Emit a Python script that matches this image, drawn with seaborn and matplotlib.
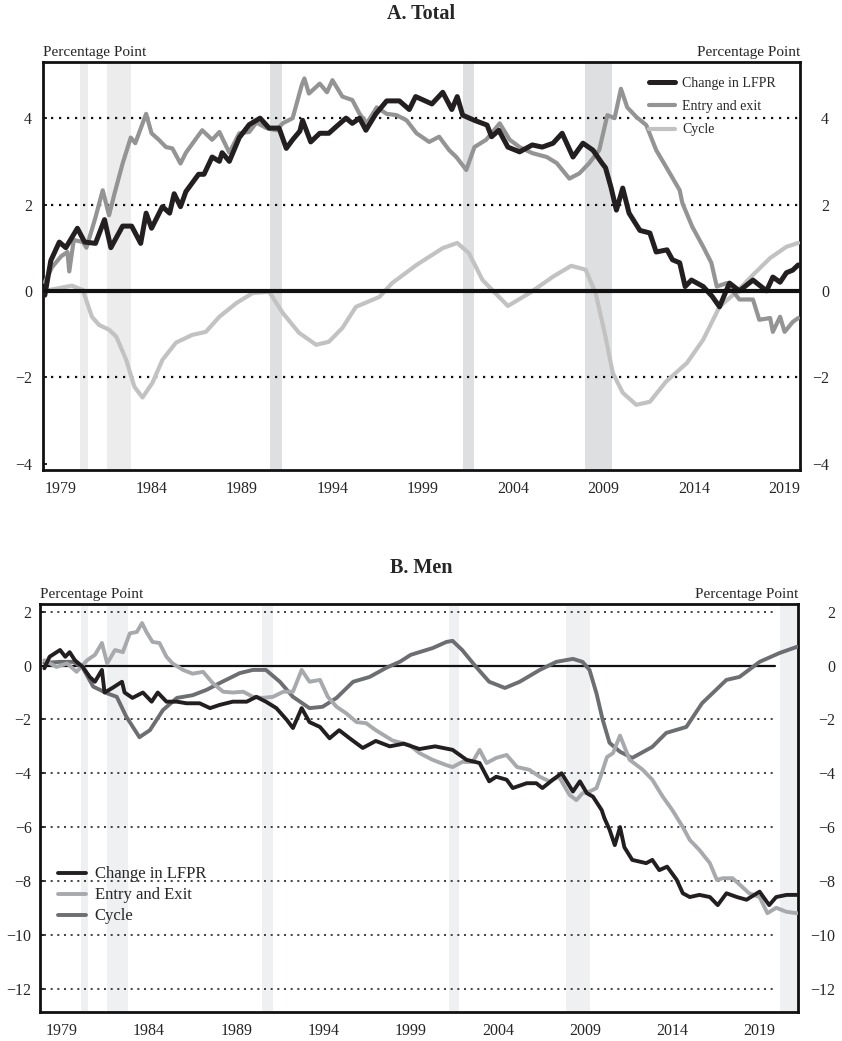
import numpy as np
import pandas as pd
import matplotlib
matplotlib.use('Agg')
import matplotlib.pyplot as plt
import seaborn as sns
from matplotlib.ticker import FixedLocator, MultipleLocator

# ---- Panel A: Total ----
a_lfpr_year = [1978.1, 1978.43, 1978.9, 1979.26, 1979.9, 1980.3, 1980.9, 1981.4, 1981.75, 1982.4,
               1982.9, 1983.4, 1983.7, 1984.0, 1984.6, 1985.0, 1985.25, 1985.6, 1985.9, 1986.6,
               1986.9, 1987.35, 1987.75, 1987.9, 1988.3, 1988.85, 1989.4, 1990.0, 1990.5, 1991.05,
               1991.45, 1991.8, 1992.2, 1992.35, 1992.8, 1993.3, 1993.8, 1994.2, 1994.75, 1995.1,
               1995.5, 1995.85, 1996.4, 1997.0, 1997.7, 1998.25, 1998.6, 1999.5, 2000.1, 2000.6,
               2000.9, 2001.2, 2001.85, 2002.55, 2002.8, 2003.2, 2003.7, 2004.35, 2005.05, 2005.6,
               2006.2, 2006.7, 2007.3, 2007.85, 2008.4, 2008.9, 2009.1, 2009.4, 2009.7, 2010.05,
               2010.4, 2011.0, 2011.55, 2011.9, 2012.5, 2012.8, 2013.2, 2013.5, 2013.85, 2014.5,
               2015.0, 2015.4, 2015.95, 2016.5, 2017.25, 2018.0, 2018.35, 2018.75, 2019.1, 2019.45,
               2019.75]
a_lfpr = [-0.1, 0.7, 1.13, 1.0, 1.45, 1.13, 1.1, 1.65, 1.0, 1.5,
          1.5, 1.1, 1.8, 1.45, 1.95, 1.8, 2.25, 1.95, 2.3, 2.7,
          2.7, 3.1, 3.0, 3.2, 3.0, 3.55, 3.85, 4.0, 3.77, 3.77,
          3.3, 3.5, 3.7, 3.95, 3.45, 3.65, 3.65, 3.8, 4.0, 3.88,
          4.0, 3.72, 4.1, 4.4, 4.4, 4.2, 4.5, 4.33, 4.6, 4.2,
          4.5, 4.07, 3.95, 3.84, 3.57, 3.72, 3.33, 3.22, 3.38, 3.33,
          3.42, 3.65, 3.1, 3.42, 3.26, 2.96, 2.85, 2.4, 1.87, 2.38,
          1.8, 1.4, 1.34, 0.9, 0.95, 0.72, 0.65, 0.1, 0.25, 0.1,
          -0.13, -0.37, 0.18, 0.0, 0.25, 0.0, 0.32, 0.2, 0.42, 0.48,
          0.6]

a_entry_year = [1978.1, 1978.5, 1979.0, 1979.35, 1979.45, 1979.7, 1980.2, 1980.4, 1980.9, 1981.3,
                1981.65, 1981.95, 1982.4, 1982.85, 1983.1, 1983.7, 1984.0, 1984.4, 1984.8, 1985.15,
                1985.6, 1985.9, 1986.45, 1986.8, 1987.35, 1987.75, 1988.3, 1988.85, 1989.4, 1989.8,
                1990.35, 1990.9, 1991.25, 1991.8, 1992.3, 1992.45, 1992.7, 1993.3, 1993.7, 1994.0,
                1994.55, 1995.1, 1995.5, 1995.9, 1996.45, 1997.0, 1997.55, 1998.1, 1998.65, 1999.35,
                1999.9, 2000.45, 2000.85, 2001.4, 2001.85, 2002.5, 2003.25, 2003.8, 2004.35, 2005.05,
                2005.85, 2006.4, 2007.1, 2007.65, 2008.2, 2008.75, 2009.05, 2009.2, 2009.6, 2009.95,
                2010.3, 2010.8, 2011.35, 2011.9, 2012.45, 2013.2, 2013.35, 2013.9, 2014.5, 2014.95,
                2015.25, 2015.8, 2016.5, 2017.25, 2017.6, 2018.2, 2018.35, 2018.75, 2019.0, 2019.45,
                2019.75]
a_entry = [0.2, 0.55, 0.8, 0.9, 0.45, 1.18, 1.13, 1.0, 1.7, 2.33,
           1.75, 2.25, 2.95, 3.55, 3.42, 4.1, 3.65, 3.5, 3.33, 3.3,
           2.95, 3.2, 3.52, 3.72, 3.5, 3.68, 3.2, 3.65, 3.68, 3.9,
           3.77, 3.72, 3.88, 4.0, 4.76, 4.92, 4.57, 4.8, 4.6, 4.88,
           4.5, 4.42, 4.1, 3.88, 4.25, 4.1, 4.07, 3.95, 3.65, 3.45,
           3.57, 3.26, 3.1, 2.8, 3.33, 3.5, 3.88, 3.5, 3.33, 3.19,
           3.1, 2.96, 2.6, 2.72, 2.96, 3.26, 3.8, 4.07, 4.0, 4.68,
           4.25, 4.03, 3.84, 3.26, 2.87, 2.33, 2.03, 1.48, 1.02, 0.65,
           0.1, 0.18, -0.2, -0.2, -0.67, -0.63, -0.95, -0.6, -0.95, -0.72,
           -0.63]

a_cycle_year = [1978.1, 1978.35, 1979.6, 1980.2, 1980.7, 1981.1, 1981.65, 1982.05, 1982.6, 1983.05,
                1983.5, 1984.05, 1984.6, 1985.35, 1986.25, 1987.0, 1987.75, 1988.7, 1989.6, 1990.5,
                1991.25, 1992.15, 1993.1, 1993.8, 1994.55, 1995.3, 1996.6, 1997.3, 1998.65, 2000.1,
                2000.9, 2001.55, 2002.3, 2003.7, 2004.9, 2006.2, 2007.2, 2008.0, 2008.55, 2009.05,
                2009.5, 2010.05, 2010.8, 2011.55, 2012.45, 2013.6, 2014.5, 2015.4, 2016.35, 2017.25,
                2018.2, 2019.1, 2019.75]
a_cycle = [0.0, 0.02, 0.12, 0.02, -0.6, -0.79, -0.9, -1.06, -1.6, -2.22,
           -2.47, -2.13, -1.6, -1.2, -1.02, -0.95, -0.6, -0.28, -0.05, -0.02,
           -0.51, -0.97, -1.25, -1.18, -0.86, -0.37, -0.14, 0.18, 0.6, 0.99,
           1.11, 0.87, 0.25, -0.35, -0.05, 0.33, 0.58, 0.49, -0.05, -0.97,
           -1.9, -2.36, -2.64, -2.57, -2.1, -1.67, -1.13, -0.37, -0.02, 0.37,
           0.76, 1.02, 1.11]

a_recess_start = [1980.05, 1981.55, 1990.55, 2001.2, 2007.95]
a_recess_end = [1980.5, 1982.85, 1991.2, 2001.8, 2009.45]

# ---- Panel B: Men ----
b_lfpr_year = [1978.0, 1978.3, 1978.9, 1979.2, 1979.45, 1979.75, 1980.2, 1980.6, 1980.9, 1981.3,
               1981.45, 1981.9, 1982.45, 1982.6, 1983.05, 1983.65, 1984.15, 1984.5, 1985.0, 1985.6,
               1986.15, 1986.9, 1987.5, 1988.05, 1988.8, 1989.6, 1990.15, 1990.7, 1991.3, 1991.9,
               1992.25, 1992.75, 1993.2, 1993.8, 1994.35, 1994.9, 1995.5, 1996.25, 1997.0, 1997.8,
               1998.6, 1999.5, 2000.4, 2001.4, 2002.2, 2002.95, 2003.5, 2003.9, 2004.5, 2004.85,
               2005.65, 2006.2, 2006.55, 2007.15, 2007.65, 2008.3, 2008.7, 2009.1, 2009.45, 2009.95,
               2010.1, 2010.4, 2010.7, 2011.0, 2011.25, 2011.7, 2012.5, 2012.85, 2013.25, 2013.7,
               2014.25, 2014.6, 2015.0, 2015.55, 2016.15, 2016.6, 2017.1, 2017.7, 2018.25, 2019.0,
               2019.55, 2019.95, 2020.55, 2021.15]
b_lfpr = [-0.1, 0.33, 0.58, 0.33, 0.5, 0.2, -0.05, -0.42, -0.6, -0.16,
          -1.0, -0.83, -0.6, -1.0, -1.2, -1.0, -1.34, -1.0, -1.34, -1.34,
          -1.4, -1.4, -1.58, -1.46, -1.34, -1.34, -1.16, -1.34, -1.58, -2.02,
          -2.32, -1.58, -2.1, -2.28, -2.7, -2.4, -2.7, -3.06, -2.8, -3.0,
          -2.9, -3.1, -3.0, -3.13, -3.5, -3.62, -4.3, -4.13, -4.24, -4.55,
          -4.37, -4.37, -4.55, -4.24, -4.0, -4.68, -4.3, -4.74, -4.87, -5.37,
          -5.66, -6.1, -6.67, -6.0, -6.75, -7.22, -7.34, -7.22, -7.6, -7.47,
          -7.96, -8.46, -8.6, -8.52, -8.6, -8.9, -8.46, -8.6, -8.7, -8.4,
          -8.9, -8.6, -8.52, -8.52]

b_entry_year = [1978.0, 1978.7, 1979.3, 1979.85, 1980.45, 1980.9, 1981.3, 1981.6, 1982.05, 1982.5,
                1982.9, 1983.3, 1983.6, 1983.85, 1984.2, 1984.6, 1985.0, 1985.35, 1985.95, 1986.5,
                1987.1, 1987.65, 1988.25, 1988.8, 1989.4, 1989.95, 1990.5, 1991.1, 1991.7, 1992.25,
                1992.75, 1993.2, 1993.8, 1994.25, 1994.75, 1995.3, 1995.9, 1996.45, 1997.0, 1997.95,
                1998.95, 1999.5, 2000.25, 2001.05, 2001.4, 2001.95, 2002.55, 2002.95, 2003.35, 2003.9,
                2004.5, 2005.1, 2005.8, 2006.4, 2006.95, 2007.5, 2008.1, 2008.5, 2008.85, 2009.25,
                2009.65, 2009.95, 2010.25, 2010.6, 2011.0, 2011.55, 2012.3, 2012.85, 2013.45, 2014.0,
                2014.6, 2015.0, 2015.55, 2016.15, 2016.55, 2016.9, 2017.45, 2018.0, 2018.4, 2019.0,
                2019.45, 2019.95, 2020.55, 2021.15]
b_entry = [0.2, -0.05, 0.08, -0.23, 0.2, 0.4, 0.84, 0.08, 0.58, 0.5,
           1.2, 1.25, 1.58, 1.25, 0.88, 0.84, 0.33, 0.08, -0.16, -0.3,
           -0.23, -0.65, -0.97, -1.0, -0.97, -1.16, -1.2, -1.16, -0.97, -0.97,
           -0.16, -0.6, -0.53, -1.16, -1.53, -1.77, -2.1, -2.14, -2.4, -2.78,
           -2.96, -3.25, -3.5, -3.7, -3.77, -3.58, -3.58, -3.13, -3.62, -3.43,
           -3.32, -3.77, -3.87, -4.13, -4.3, -4.13, -4.8, -5.0, -4.74, -4.68,
           -4.55, -4.0, -3.4, -3.25, -2.6, -3.5, -3.87, -4.24, -4.87, -5.37,
           -6.0, -6.48, -6.85, -7.34, -7.96, -7.9, -7.9, -8.22, -8.46, -8.6,
           -9.2, -9.0, -9.15, -9.2]

b_cycle_year = [1978.0, 1978.9, 1979.65, 1980.2, 1980.8, 1981.6, 1982.15, 1982.7, 1983.45, 1984.05,
                1984.8, 1985.6, 1986.5, 1987.3, 1988.2, 1989.2, 1989.95, 1990.7, 1991.5, 1992.25,
                1993.2, 1993.95, 1994.75, 1995.7, 1996.65, 1997.6, 1998.4, 1999.0, 1999.5, 2000.25,
                2001.05, 2001.4, 2001.95, 2002.75, 2003.5, 2004.4, 2005.25, 2006.4, 2007.35, 2008.3,
                2008.85, 2009.25, 2009.65, 2010.0, 2010.4, 2011.0, 2011.7, 2012.85, 2013.65, 2014.8,
                2015.7, 2017.1, 2017.85, 2019.0, 2020.15, 2021.15]
b_cycle = [0.1, 0.14, 0.14, -0.08, -0.78, -1.03, -1.16, -1.9, -2.66, -2.4,
           -1.65, -1.2, -1.1, -0.9, -0.6, -0.28, -0.16, -0.16, -0.6, -1.16,
           -1.58, -1.53, -1.2, -0.6, -0.42, -0.08, 0.15, 0.4, 0.5, 0.65,
           0.88, 0.92, 0.58, -0.05, -0.6, -0.83, -0.6, -0.16, 0.14, 0.25,
           0.14, -0.16, -1.03, -2.0, -2.87, -3.2, -3.43, -3.02, -2.5, -2.28,
           -1.4, -0.53, -0.42, 0.14, 0.47, 0.7]

b_recess_start = [1980.1, 1981.6, 1990.5, 2001.2, 2007.9, 2020.15]
b_recess_end = [1980.5, 1982.8, 1991.1, 2001.75, 2009.3, 2021.4]

year_ticks = [1979, 1984, 1989, 1994, 1999, 2004, 2009, 2014, 2019]

SERIF = 'Liberation Serif'


def style_axes(ax, xlim, ylim, yticks, left_pad, right_pad):
    ax.set_xlim(*xlim)
    ax.set_ylim(*ylim)
    ax.set_xlabel('')
    ax.set_ylabel('')
    ax.xaxis.set_major_locator(FixedLocator(year_ticks))
    ax.xaxis.set_minor_locator(MultipleLocator(1))
    ax.set_xticklabels([str(y) for y in year_ticks])
    ax.yaxis.set_major_locator(FixedLocator(yticks))
    ax.tick_params(axis='x', which='major', direction='in', length=6, width=1.6,
                   labelsize=11.5, pad=8, top=False)
    ax.tick_params(axis='x', which='minor', direction='in', length=4, width=1.6, top=False)
    ax.tick_params(axis='y', which='major', direction='in', length=3, width=1.4,
                   left=True, right=False, labelleft=True, labelright=False,
                   labelsize=11.5, pad=left_pad)
    for lab in ax.get_xticklabels() + ax.get_yticklabels():
        lab.set_fontfamily(SERIF)
    for s in ax.spines.values():
        s.set_visible(True)
        s.set_color('#111111')
        s.set_linewidth(2.0)

    # right-hand copy of the value labels, right-aligned like the original
    rax = ax.twinx()
    rax.set_ylim(*ylim)
    rax.yaxis.set_major_locator(FixedLocator(yticks))
    rax.tick_params(axis='y', which='major', length=0, labelsize=11.5, pad=right_pad)
    for lab in rax.get_yticklabels():
        lab.set_fontfamily(SERIF)
        lab.set_horizontalalignment('right')
    for s in rax.spines.values():
        s.set_visible(False)
    rax.grid(False)

    ax.text(0.0, 1.008, 'Percentage Point', transform=ax.transAxes, ha='left', va='bottom',
            fontsize=11, family=SERIF)
    ax.text(1.0, 1.008, 'Percentage Point', transform=ax.transAxes, ha='right', va='bottom',
            fontsize=11, family=SERIF)


def main():
    sns.set_theme(style='white')
    plt.rcParams['font.family'] = [SERIF, 'DejaVu Serif']
    plt.rcParams['axes.unicode_minus'] = True

    fig = plt.figure(figsize=(8.42, 10.41), dpi=100)
    order = [2, 1, 0]

    # ---------------- Panel A ----------------
    ax = fig.add_axes([0.0511, 0.5485, 0.8990, 0.3919])
    for s, e, c in zip(a_recess_start, a_recess_end,
                       ['#ececec', '#ececec', '#dedfe1', '#dedfe1', '#dedfe1']):
        ax.axvspan(s, e, color=c, lw=0, zorder=0)
    for g in [4, 2, -2]:
        ax.axhline(g, color='#111111', lw=1.6, ls=(0, (1, 2.6)), zorder=1)
    ax.axhline(0, color='#bbbbbb', lw=1.0, ls=(0, (2, 2)), zorder=1)

    sns.lineplot(x=a_cycle_year, y=a_cycle, ax=ax, color='#c2c2c2', lw=3.0,
                 estimator=None, sort=False, label='Cycle', zorder=3)
    sns.lineplot(x=a_entry_year, y=a_entry, ax=ax, color='#949494', lw=3.0,
                 estimator=None, sort=False, label='Entry and exit', zorder=4)
    sns.lineplot(x=a_lfpr_year, y=a_lfpr, ax=ax, color='#231f20', lw=3.6,
                 estimator=None, sort=False, label='Change in LFPR', zorder=5)
    ax.axhline(0, color='#111111', lw=3.0, zorder=6)

    h, l = ax.get_legend_handles_labels()
    ax.legend([h[i] for i in order], [l[i] for i in order], loc='upper right',
              bbox_to_anchor=(0.985, 0.995), frameon=False,
              handlelength=1.9, handletextpad=0.5, labelspacing=0.75,
              prop={'family': SERIF, 'size': 10})
    style_axes(ax, (1978.0, 2019.85), (-4.15, 5.3), [-4, -2, 0, 2, 4], 8, 21)
    fig.text(0.5, 1 - 14 / 1041, 'A. Total', ha='center', va='center',
             fontsize=14.5, fontweight='bold', family=SERIF)

    # ---------------- Panel B ----------------
    bx = fig.add_axes([0.0475, 0.0279, 0.9002, 0.3919])
    for s, e in zip(b_recess_start, b_recess_end):
        bx.axvspan(s, e, color='#eef0f2', lw=0, zorder=0)
    for g in [2, -2, -4, -6, -8, -10, -12]:
        bx.plot([1978.0, 2019.9], [g, g], color='#222222', lw=1.2, ls=(0, (1.2, 2.8)), zorder=1)
    bx.plot([1977.75, 2019.9], [0, 0], color='#111111', lw=1.6, zorder=2)

    sns.lineplot(x=b_cycle_year, y=b_cycle, ax=bx, color='#6d6e71', lw=2.8,
                 estimator=None, sort=False, label='Cycle', zorder=3)
    sns.lineplot(x=b_entry_year, y=b_entry, ax=bx, color='#a7a9ac', lw=2.8,
                 estimator=None, sort=False, label='Entry and Exit', zorder=4)
    sns.lineplot(x=b_lfpr_year, y=b_lfpr, ax=bx, color='#231f20', lw=2.8,
                 estimator=None, sort=False, label='Change in LFPR', zorder=5)

    h, l = bx.get_legend_handles_labels()
    bx.legend([h[i] for i in order], [l[i] for i in order], loc='lower left',
              bbox_to_anchor=(0.004, 0.178), frameon=False,
              handlelength=1.7, handletextpad=0.5, labelspacing=0.3,
              prop={'family': SERIF, 'size': 12})
    style_axes(bx, (1977.75, 2021.2), (-12.87, 2.29), [-12, -10, -8, -6, -4, -2, 0, 2], 6, 27)
    fig.text(0.5, 1 - 568 / 1041, 'B. Men', ha='center', va='center',
             fontsize=14.5, fontweight='bold', family=SERIF)

    plt.savefig('out.png', dpi=100, facecolor='white')
    plt.close()


if __name__ == '__main__':
    main()
